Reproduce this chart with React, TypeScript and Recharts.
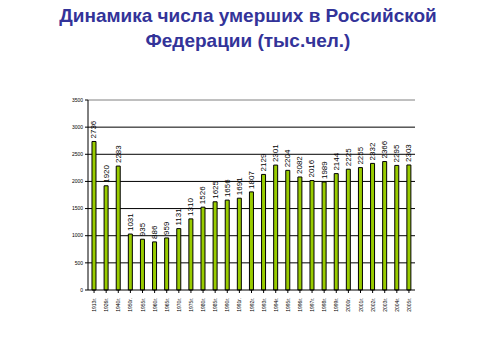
import { Bar, BarChart, CartesianGrid, LabelList, ReferenceLine, XAxis, YAxis } from "recharts";

const years = [
  "1913г.", "1926г.", "1940г.", "1950г.", "1955г.", "1960г.", "1965г.", "1970г.", "1975г.",
  "1980г.", "1985г.", "1990г.", "1991г.", "1992г.", "1993г.", "1994г.", "1995г.", "1996г.",
  "1997г.", "1998г.", "1999г.", "2000г.", "2001г.", "2002г.", "2003г.", "2004г.", "2005г.",
];
const deaths = [
  2736, 1920, 2283, 1031, 935, 886, 959, 1131, 1310,
  1526, 1625, 1656, 1691, 1807, 2129, 2301, 2204, 2082,
  2016, 1989, 2144, 2225, 2255, 2332, 2366, 2295, 2303,
];
const yTicks = [0, 500, 1000, 1500, 2000, 2500, 3000, 3500];
const gridLines = [500, 1000, 1500, 2000, 2500, 3000];

const data = years.map((year, i) => ({ year, value: deaths[i] }));

const font = "Arial, 'Liberation Sans', sans-serif";

function YearTick({ x, y, payload }: any) {
  return (
    <text
      x={x}
      y={y + 3}
      transform={`rotate(-90 ${x} ${y + 3})`}
      textAnchor="end"
      dominantBaseline="central"
      fontSize={5}
      fontFamily={font}
      fill="#000"
    >
      {payload.value}
    </text>
  );
}

function ValueLabel({ x, y, width, value }: any) {
  const cx = x + width / 2;
  const cy = y - 3;
  return (
    <text
      x={cx}
      y={cy}
      transform={`rotate(-90 ${cx} ${cy})`}
      textAnchor="start"
      dominantBaseline="central"
      fontSize={8}
      fontFamily={font}
      fill="#000"
    >
      {value}
    </text>
  );
}

export default function App() {
  return (
    <div style={{ position: "absolute", left: 0, top: 0, width: 480, height: 361, background: "#fff" }}>
      <div
        style={{
          position: "absolute",
          left: 0,
          top: 3,
          width: 496,
          textAlign: "center",
          fontFamily: font,
          fontWeight: "bold",
          fontSize: 19,
          lineHeight: "25px",
          color: "#333399",
        }}
      >
        Динамика числа умерших в Российской
        <br />
        Федерации (тыс.чел.)
      </div>
      <div style={{ position: "absolute", left: 0, top: 0 }}>
        <BarChart
          width={480}
          height={361}
          data={data}
          margin={{ top: 100, right: 65, left: 0, bottom: 41 }}
          barCategoryGap="33%"
        >
          <CartesianGrid vertical={false} horizontalValues={gridLines} stroke="#000" strokeWidth={1} />
          <XAxis
            dataKey="year"
            interval={0}
            tick={<YearTick />}
            tickLine={{ stroke: "#000" }}
            tickSize={3}
            axisLine={{ stroke: "#000" }}
            height={30}
          />
          <YAxis
            domain={[0, 3500]}
            ticks={yTicks}
            width={88}
            tick={{ fontSize: 5, fill: "#000", fontFamily: font }}
            tickLine={{ stroke: "#000" }}
            tickSize={3}
            axisLine={{ stroke: "#000" }}
          />
          <YAxis
            yAxisId="right"
            orientation="right"
            domain={[0, 3500]}
            width={0}
            tick={false}
            tickLine={false}
            axisLine={{ stroke: "#808080" }}
          />
          <ReferenceLine y={3500} stroke="#808080" />
          <Bar dataKey="value" fill="#99cc00" stroke="#000" strokeWidth={1} isAnimationActive={false}>
            <LabelList dataKey="value" content={<ValueLabel />} />
          </Bar>
        </BarChart>
      </div>
    </div>
  );
}
